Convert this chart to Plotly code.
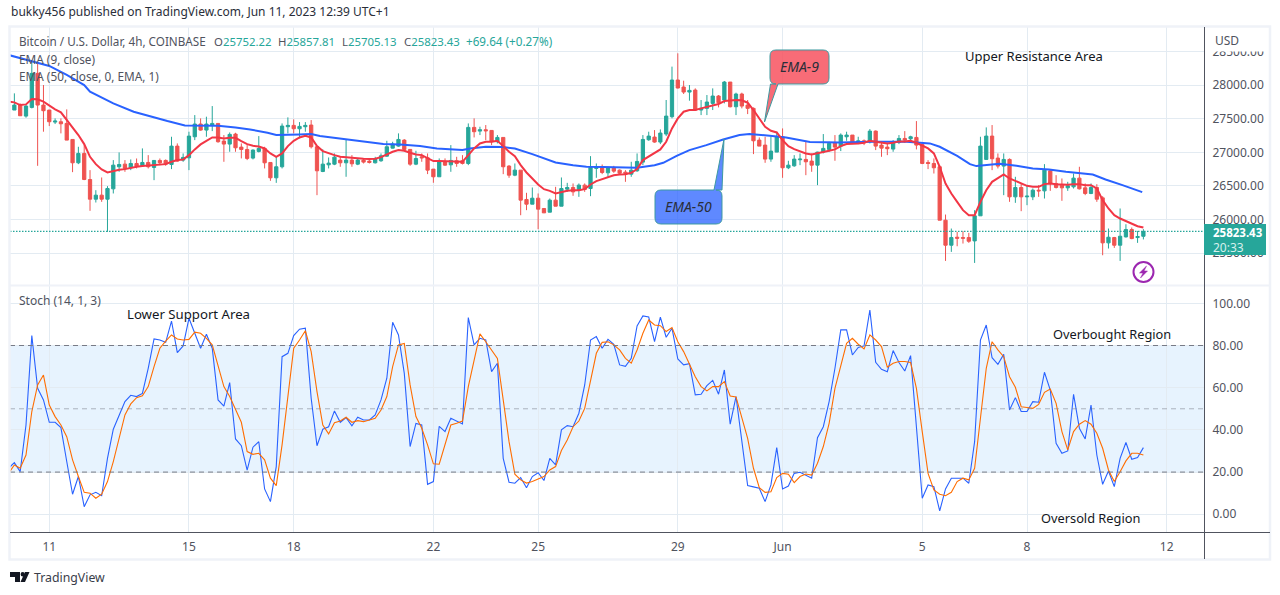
import plotly.graph_objects as go

W, H = 1280, 595
FONT = "Noto Sans"
GREEN, RED = "#26a69a", "#ef5350"
GREY = "#50535e"
GRID = "#e3ebf2"
FRAME = "#eff2f8"

first_bar = -6
opens = [27628,27702,27538,27667,28173,27702,
27628,27449,27454,27429,27191,26844,26983,26596,26303,26363,
26303,26457,26785,26824,26770,26834,26800,26849,26775,26879,
26879,26819,27092,26884,26918,27231,27420,27330,27400,27429,
27167,27122,27271,27077,27042,26914,27013,27058,26849,26621,
26785,27380,27400,27350,27380,27405,27082,26715,26814,26824,
26884,26844,26884,26824,26884,26869,26844,26874,26943,27062,
27092,27181,27043,26824,26933,26918,26750,26636,26859,26814,
26874,26874,26834,27370,27315,27335,27325,27157,27221,26795,
26660,26735,26299,26229,26318,26165,26110,26289,26199,26452,
26477,26447,26512,26462,26760,26770,26695,26765,26735,26705,
26675,26725,26854,27186,27226,27152,27271,27529,28074,27970,
27895,27925,27628,27653,27727,27836,27777,28044,27677,27866,
27702,27653,27181,27107,26899,27003,27231,26770,26799,26889,
26894,26869,26809,27003,27043,27142,27092,27231,27256,27142,
27171,27157,27315,27107,27077,27048,27147,27206,27201,27221,
27117,26849,26834,26785,25991,25619,25738,25733,25733,25683,
26056,26894,27241,26914,26795,26894,26338,26477,26338,26338,
26437,26427,26725,26537,26512,26472,26487,26616,26472,26388,
26477,26323,25654,25733,25619,25743,25852,25733,25752.22]
highs = [27876,27727,27702,28347,28322,28000,
27628,27504,27504,27638,27191,27082,27107,26735,26437,26626,
26497,26884,26998,26884,26894,26908,27058,26958,26884,26908,
26894,27231,27132,26983,27306,27553,27504,27529,27687,27429,
27256,27295,27290,27132,27107,27043,27241,27082,26849,26933,
27429,27519,27489,27449,27449,27479,27082,27043,26923,26983,
26933,27191,26958,26908,26908,26894,26933,26983,27171,27157,
27281,27196,27043,27023,26983,26983,26750,26909,26909,27107,
26933,26958,27429,27504,27380,27405,27330,27256,27221,26809,
26834,26735,26398,26477,26388,26165,26313,26487,26626,26546,
26537,26537,26537,26943,26834,26819,26785,26799,26745,26735,
26859,26983,27256,27306,27330,27340,27777,28273,28471,28064,
28000,27950,27777,27851,27950,27851,28060,28044,27886,27886,
27777,27667,27221,27231,27231,27306,27355,26874,26958,26983,
27171,26983,27008,27271,27157,27256,27281,27306,27256,27231,
27191,27345,27325,27157,27132,27181,27256,27315,27246,27464,
27132,26884,26909,26809,26075,25867,25817,25827,25803,26140,
27231,27370,27405,26983,26983,26909,26636,26537,26512,26462,
26512,26824,26735,26660,26611,26561,26685,26785,26537,26537,
26526,26348,25867,25743,26165,25931,25882,25832,25857.81]
lows = [27628,27543,27514,27652,26799,27306,
27390,27420,27281,27181,26705,26824,26586,26130,26254,26264,
25817,26388,26710,26710,26735,26760,26785,26760,26586,26809,
26799,26750,26859,26859,26735,27181,27320,27231,27315,27142,
26859,27008,27008,26909,26884,26894,26998,26760,26576,26546,
26760,27281,27281,27206,27306,27057,26363,26705,26760,26809,
26785,26636,26785,26809,26834,26834,26834,26859,26933,27057,
27082,27033,26799,26809,26859,26676,26547,26636,26799,26710,
26785,26819,26809,27221,27256,27181,27107,27132,26675,26621,
26645,26065,26140,26229,25857,26100,26110,26199,26199,26412,
26353,26338,26412,26348,26621,26675,26626,26695,26675,26561,
26636,26710,26809,27171,27142,27122,27241,27504,27950,27866,
27767,27618,27553,27553,27628,27667,27727,27667,27553,27653,
27568,26973,27092,26844,26859,27003,26621,26750,26785,26809,
26660,26710,26512,26983,27008,26874,27018,27171,27122,27122,
27107,27132,27033,26933,26958,27008,27122,27142,27157,27043,
26824,26750,26685,25991,25386,25520,25604,25644,25654,25356,
26056,26894,26735,26760,26363,26264,26249,26125,26214,26289,
26338,26313,26427,26462,26279,26427,26462,26447,26363,26378,
26264,25470,25570,25579,25386,25733,25708,25654,25705.13]
closes = [27702,27543,27687,28173,27702,27618,
27454,27464,27424,27181,26844,26983,26596,26303,26363,26303,
26462,26809,26819,26760,26834,26795,26849,26785,26879,26844,
26824,27092,26869,26924,27241,27420,27330,27420,27429,27157,
27122,27266,27067,27042,26909,27033,27058,26844,26621,26785,
27390,27400,27350,27385,27400,27082,26725,26824,26839,26928,
26844,26884,26829,26884,26854,26849,26899,26948,27082,27122,
27191,27043,26824,26908,26918,26735,26636,26859,26809,26879,
26834,26834,27370,27306,27335,27320,27157,27221,26785,26660,
26735,26289,26229,26318,26155,26100,26289,26199,26462,26477,
26412,26512,26447,26775,26780,26700,26770,26720,26690,26685,
26735,26864,27191,27241,27152,27286,27538,28074,27955,27895,
27920,27628,27653,27747,27836,27737,28044,27677,27866,27687,
27653,27171,27092,26899,27018,27231,26770,26809,26899,26899,
26859,26809,27003,27058,27132,27077,27256,27256,27132,27171,
27142,27315,27092,27062,27053,27157,27206,27181,27231,27107,
26834,26834,26770,25991,25619,25733,25723,25723,25678,26056,
27092,27241,26904,26795,26894,26338,26477,26338,26348,26437,
26427,26735,26537,26477,26472,26502,26616,26457,26388,26477,
26303,25654,25738,25619,25753,25852,25718,25748,25823.43]

ema9 = [27752,27742,27702,27712,27792,27787,27752,
27692,27638,27593,27479,27355,27256,27122,26933,26824,26745,
26700,26725,26740,26750,26770,26785,26795,26800,26805,26815,
26824,26859,26884,26894,26958,27043,27117,27171,27221,27221,
27206,27216,27216,27167,27122,27097,27087,27057,26983,26933,
26983,27092,27171,27221,27246,27221,27092,27018,26983,26958,
26933,26923,26914,26909,26904,26899,26904,26928,26968,27008,
27033,27023,26993,26968,26958,26909,26869,26869,26869,26869,
26869,26859,26958,27057,27132,27157,27157,27171,27092,27008,
26943,26809,26700,26611,26522,26452,26427,26388,26413,26427,
26437,26437,26452,26522,26571,26601,26636,26660,26670,26675,
26695,26750,26884,26933,26983,27043,27157,27355,27504,27603,
27628,27628,27653,27677,27702,27717,27762,27772,27777,27772,
27737,27628,27504,27380,27320,27295,27181,27092,27047,27018,
26983,26968,26983,27008,27023,27043,27092,27122,27122,27132,
27142,27171,27157,27142,27132,27142,27162,27162,27171,27142,
27097,27057,26983,26785,26537,26388,26264,26140,26065,26065,
26264,26437,26561,26611,26670,26611,26576,26537,26502,26487,
26487,26527,26537,26527,26522,26517,26527,26527,26512,26512,
26462,26289,26165,26065,26016,25976,25932,25902,25882]

ema50_bar = [-7,0,3,6,7,9,11,14.5,17.5,20.3,23.3,26,29,32,34.5,37.5,39,43,45,46.5,48.8,51.6,54.5,57.4,60.3,
63.7,66.6,69.4,71,72.3,75,78,80,83,87,90,92.3,95.2,98,101,104,105.5,107.8,110,112.9,115.8,118.6,120.3,
123.8,126.6,130.7,135.8,141.6,147.3,151.3,153,156,158.2,159.3,163.3,166.2,169,171.8,174.7,179.3,181.5,184.4,187.8]
ema50 = [28446,28283,28149,28000,27901,27816,27727,27603,27529,27464,27400,27400,27395,27370,27340,27291,27256,27266,27271,27241,27216,27181,27147,27122,27117,
27092,27057,27043,27033,27057,27082,27077,27057,26973,26849,26809,26785,26780,26770,26770,26809,26844,26948,27033,27107,27191,27256,27271,
27246,27221,27152,27147,27157,27157,27132,27082,26948,26824,26795,26829,26799,26760,26745,26710,26670,26596,26512,26408]

stoch_k = [21.8,24.5,20.2,42.3,84.7,59.7,54.2,
43.6,43.6,41.1,25.0,9.5,17.9,3.6,9.2,10.4,8.8,
26.5,40.3,46.6,53.4,56.4,55.8,57.3,69.2,83.1,82.6,
81.5,91.6,76.6,79.8,92.9,86.1,78.7,85.3,78.7,54.2,
51.3,62.4,35.7,32.5,20.9,31.8,34.4,12.0,6.0,22.6,
74.7,76.3,84.7,87.7,88.2,55.0,32.5,40.3,41.5,49.0,
43.6,45.8,41.9,46.0,44.7,44.7,47.1,54.2,64.5,91.0,
85.0,66.8,32.1,43.1,42.3,14.2,15.5,41.7,39.2,45.5,
44.2,42.8,93.2,80.3,83.4,82.6,67.6,71.6,26.5,15.2,
14.7,17.4,12.6,17.9,19.7,16.0,26.5,23.4,40.0,42.0,
41.5,47.9,61.3,82.6,84.2,78.7,82.9,80.6,70.8,70.1,
73.9,89.3,94.0,93.5,81.8,93.4,83.9,88.2,73.6,70.8,
71.4,56.6,56.9,61.0,63.5,56.9,68.4,42.7,55.8,35.2,
13.6,13.0,12.3,6.0,13.9,31.6,12.0,13.4,19.4,19.9,
18.3,17.1,36.3,41.5,53.4,69.2,87.4,87.4,75.5,79.1,
79.8,96.8,72.0,68.7,67.6,77.6,71.9,67.9,75.2,41.1,
7.6,13.9,13.1,1.6,12.0,17.1,17.1,17.1,14.7,34.4,
82.6,89.7,74.2,71.1,75.8,49.4,55.3,48.7,48.7,53.4,
53.1,67.3,58.9,33.6,28.9,30.0,56.9,40.8,35.7,51.8,
28.1,14.2,20.5,13.1,26.5,34.0,26.1,26.9,31.6]
stoch_d = [19.4,23.4,21.8,28.1,48.7,61.3,66.0,
51.8,46.3,42.3,36.8,25.8,17.9,10.4,10.0,7.6,9.5,
15.5,25.0,36.8,47.1,52.3,55.3,56.2,60.5,70.0,78.7,
82.1,85.0,83.1,82.6,82.9,86.3,85.8,83.4,80.3,70.8,
60.5,55.8,49.4,43.6,29.7,28.4,28.9,25.8,17.1,13.6,
32.9,57.3,78.7,82.6,87.0,77.1,58.1,42.3,38.1,43.4,
44.2,46.0,43.6,44.4,43.9,44.7,45.5,49.4,55.8,70.0,
80.3,81.0,61.3,46.3,40.8,32.9,23.9,23.7,32.9,42.3,
43.1,44.2,60.5,72.4,85.5,81.8,77.9,73.9,54.2,34.4,
19.0,16.3,14.8,15.5,16.7,17.9,21.0,22.6,30.2,35.2,
41.5,44.2,50.2,63.7,76.3,81.5,81.8,80.3,77.9,73.9,
71.6,77.9,85.8,92.1,89.7,89.4,86.6,88.5,81.8,77.1,
71.1,65.2,60.5,58.5,60.5,60.5,62.9,56.1,55.6,45.5,
36.0,21.8,12.6,10.4,10.7,17.4,19.4,19.0,15.0,17.9,
19.1,18.6,24.2,32.1,43.1,59.7,70.8,81.0,83.4,80.6,
78.4,85.0,82.6,79.5,69.7,71.6,72.4,72.4,71.9,59.7,
39.2,19.4,11.5,9.5,8.8,10.4,15.5,17.1,16.3,21.8,
45.5,69.2,81.8,77.9,74.7,65.2,60.2,51.0,50.6,50.2,
52.1,57.8,59.4,52.6,39.2,30.5,39.2,42.7,44.4,42.7,
38.4,31.3,21.0,15.5,20.2,25.3,28.9,28.9,28.1]

tick_bars = [0,24,42,66,84,108,126,150,168,192]
tick_text = ["11","15","18","22","25","29","Jun","5","8","12"]
last_price = closes[-1]

bars = [first_bar + i for i in range(len(closes))]
line_bars = [first_bar - 1 + i for i in range(len(ema9))]

def px(x): return x / W
def py(y): return 1 - y / H

fig = go.Figure()
fig.add_trace(go.Candlestick(x=bars, open=opens, high=highs, low=lows, close=closes, yaxis="y", xaxis="x",
    increasing=dict(line=dict(color=GREEN, width=1), fillcolor=GREEN),
    decreasing=dict(line=dict(color=RED, width=1), fillcolor=RED),
    whiskerwidth=0, hoverinfo="skip", showlegend=False))
fig.add_trace(go.Scatter(x=ema50_bar, y=ema50, mode="lines", line=dict(color="#2962ff", width=2), yaxis="y", xaxis="x", hoverinfo="skip", showlegend=False))
fig.add_trace(go.Scatter(x=line_bars, y=ema9, mode="lines", line=dict(color="#f23645", width=2), yaxis="y", xaxis="x", hoverinfo="skip", showlegend=False))
fig.add_trace(go.Scatter(x=line_bars, y=stoch_k, mode="lines", line=dict(color="#2962ff", width=1.1), yaxis="y2", xaxis="x", hoverinfo="skip", showlegend=False))
fig.add_trace(go.Scatter(x=line_bars, y=stoch_d, mode="lines", line=dict(color="#ff6d00", width=1.1), yaxis="y2", xaxis="x", hoverinfo="skip", showlegend=False))

def pline(x0, y0, x1, y1, color, width=1, dash=None, layer="above"):
    return dict(type="line", xref="paper", yref="paper", x0=px(x0), y0=py(y0), x1=px(x1), y1=py(y1),
                line=dict(color=color, width=width, dash=dash or "solid"), layer=layer)

def ppath(pts, fill, line_color, width=1):
    d = ""
    for cmd, *coords in pts:
        d += cmd
        for i in range(0, len(coords), 2):
            d += f" {px(coords[i]):.5f},{py(coords[i+1]):.5f} "
    d += "Z"
    return dict(type="path", xref="paper", yref="paper", path=d, fillcolor=fill,
                line=dict(color=line_color, width=width), layer="above")

def callout(x0, y0, x1, y1, r, tail, fill, border):
    side, a, b, tx, ty = tail
    pts = [("M", x0 + r, y0)]
    if side == "top":
        pts += [("L", a, y0), ("L", tx, ty), ("L", b, y0)]
    pts += [("L", x1 - r, y0), ("Q", x1, y0, x1, y0 + r), ("L", x1, y1 - r), ("Q", x1, y1, x1 - r, y1)]
    if side == "bottom":
        pts += [("L", b, y1), ("L", tx, ty), ("L", a, y1)]
    pts += [("L", x0 + r, y1), ("Q", x0, y1, x0, y1 - r), ("L", x0, y0 + r), ("Q", x0, y0, x0 + r, y0)]
    return ppath(pts, fill, border, 1)

shapes = [
    dict(type="rect", xref="x domain", yref="y2", x0=0, x1=1, y0=20, y1=80, fillcolor="rgba(33,150,243,0.11)", line_width=0, layer="below"),
    dict(type="line", xref="x domain", yref="y2", x0=0, x1=1, y0=80, y1=80, line=dict(color="#787b86", width=1, dash="5px,4px"), layer="above"),
    dict(type="line", xref="x domain", yref="y2", x0=0, x1=1, y0=50, y1=50, line=dict(color="rgba(120,123,134,0.55)", width=1, dash="5px,4px"), layer="above"),
    dict(type="line", xref="x domain", yref="y2", x0=0, x1=1, y0=20, y1=20, line=dict(color="#787b86", width=1, dash="5px,4px"), layer="above"),
    dict(type="line", xref="x domain", yref="y", x0=0, x1=1, y0=last_price, y1=last_price, line=dict(color=GREEN, width=1.2, dash="1.5px,1.5px"), layer="above"),
    dict(type="rect", xref="paper", yref="paper", x0=px(1206), x1=px(1269), y0=py(27), y1=py(51.5), fillcolor="white", line_width=0, layer="above"),
    dict(type="rect", xref="paper", yref="paper", x0=px(9.5), x1=px(1270), y0=py(26.5), y1=py(559.5), fillcolor="rgba(0,0,0,0)", line=dict(color=FRAME, width=2.5), layer="above"),
    pline(10, 285.5, 1270, 285.5, FRAME, 2),
    pline(10, 532.5, 1270, 532.5, GREY, 1),
    pline(1204.5, 27, 1204.5, 559, GREY, 1),
    dict(type="rect", xref="paper", yref="paper", x0=px(1204), x1=px(1266), y0=py(224), y1=py(255), fillcolor=GREEN, line_width=0, layer="above"),
    callout(770, 50, 829, 84, 6, ("bottom", 770.5, 778, 764.5, 122), "rgba(247,82,95,0.85)", "#3d9aa0"),
    callout(655, 190, 722, 224, 6, ("top", 714, 722, 724, 139), "rgba(41,98,255,0.75)", "#3d9aa0"),
    dict(type="circle", xref="paper", yref="paper", x0=px(1133.5), x1=px(1153.5), y0=py(262), y1=py(282), line=dict(color="#9c27b0", width=2), fillcolor="white", layer="above"),
    ppath([("M", 1146.5, 266), ("L", 1139.5, 273), ("L", 1143, 273), ("L", 1140.5, 278), ("L", 1147.5, 271), ("L", 1144, 271)], "#9c27b0", "#9c27b0", 0.5),
    ppath([("M", 10, 572), ("L", 20, 572), ("L", 20, 582), ("L", 15, 582), ("L", 15, 577), ("L", 10, 577)], "#131722", "#131722", 0),
    dict(type="circle", xref="paper", yref="paper", x0=px(20.6), x1=px(24.8), y0=py(572), y1=py(576.4), line_width=0, fillcolor="#131722", layer="above"),
    ppath([("M", 25, 572), ("L", 29.5, 572), ("L", 25, 582), ("L", 20.5, 582)], "#131722", "#131722", 0),
]

def note(x, y, text, color=GREY, size=12, xanchor="left", **kw):
    return dict(xref="paper", yref="paper", x=px(x), y=py(y), text=text, showarrow=False, xanchor=xanchor, yanchor="middle",
                align="left", borderpad=0, font=dict(family=FONT, size=size, color=color), **kw)

def g(t): return f'<span style="color:{GREEN}">{t}</span>'

annotations = [
    note(10, 11, "bukky456 published on TradingView.com, Jun 11, 2023 12:39 UTC+1", color="#2a2e39"),
    note(17.5, 41.5, "Bitcoin / U.S. Dollar, 4h, COINBASE", size=11.7),
    note(213, 41.5, "O" + g("25752.22"), size=11.4),
    note(277, 41.5, "H" + g("25857.81"), size=11.4),
    note(341, 41.5, "L" + g("25705.13"), size=11.4),
    note(403, 41.5, "C" + g("25823.43"), size=11.4),
    note(465, 41.5, g("+69.64 (+0.27%)"), size=11.7),
    note(17.5, 59, "EMA (9, close)", size=11.8),
    note(17.5, 76, "EMA (50, close, 0, EMA, 1)", size=11.8),
    note(17.5, 300.5, "Stoch (14, 1, 3)"),
    note(1214, 41, "USD"),
    note(963.5, 55.5, "Upper Resistance Area", color="#131722", size=13),
    note(125.5, 313.5, "Lower Support Area", color="#131722", size=13.2),
    note(1051.5, 333.5, "Overbought Region", color="#131722", size=12.8),
    note(1039.5, 517.5, "Oversold Region", color="#131722", size=12.8),
    note(799.5, 66.5, "<i>EMA-9</i>", color="#2a2e39", size=14, xanchor="center"),
    note(688.5, 206.5, "<i>EMA-50</i>", color="#2a2e39", size=14, xanchor="center"),
    note(1212, 232.5, "<b>25823.43</b>", color="white", size=11.5),
    note(1212, 247, "20:33", color="#d7f0ed"),
    note(33, 577, "TradingView", color="#3a3e4a", size=12.3),
]

fig.update_layout(
    width=W, height=H, autosize=False, margin=dict(l=0, r=0, t=0, b=0),
    paper_bgcolor="white", plot_bgcolor="white", showlegend=False, boxgap=0.2,
    font=dict(family=FONT, size=12, color=GREY),
    xaxis=dict(domain=[px(10), px(1204.5)], range=[-6.75, 198.5], anchor="y2", tickmode="array",
               tickvals=tick_bars, ticktext=tick_text, showgrid=True, gridcolor=GRID, gridwidth=1,
               zeroline=False, showline=False, ticks="", rangeslider=dict(visible=False),
               tickfont=dict(family=FONT, size=12, color=GREY), ticklabelstandoff=6),
    yaxis=dict(domain=[py(285), py(27)], range=[25028, 28862], side="right", anchor="x", dtick=500, tick0=25500,
               tickformat=".2f", showgrid=True, gridcolor=GRID, zeroline=False, showline=False, ticks="",
               tickfont=dict(family=FONT, size=12, color=GREY), ticklabelstandoff=7),
    yaxis2=dict(domain=[py(532), py(286)], range=[-8.4, 108.2], side="right", anchor="x", dtick=20, tick0=0,
                tickformat=".2f", showgrid=True, gridcolor=GRID, zeroline=False, showline=False, ticks="",
                tickfont=dict(family=FONT, size=12, color=GREY), ticklabelstandoff=7),
    shapes=shapes, annotations=annotations,
)

fig.write_html("out.html", config={"displayModeBar": False}, post_script="document.body.style.margin='0';")
